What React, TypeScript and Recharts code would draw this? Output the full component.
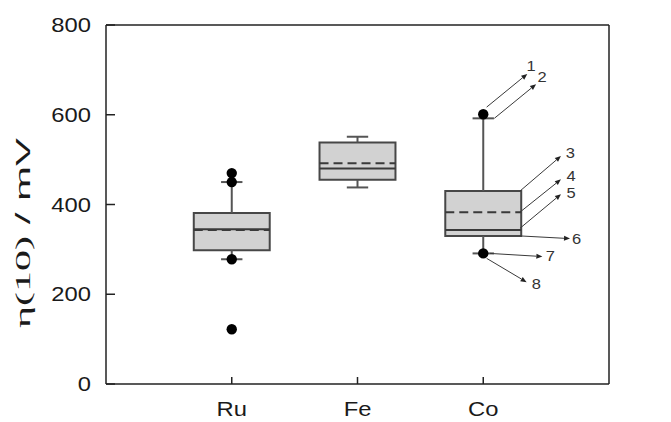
import React from 'react';
import {
  ComposedChart,
  XAxis,
  YAxis,
  ReferenceArea,
  ReferenceLine,
  ReferenceDot,
  Scatter,
} from 'recharts';

// ---- data ----
const categories = ['Ru', 'Fe', 'Co'];
const lowerWhisker = [278, 438, 291];
const q1 = [298, 455, 330];
const median = [345, 480, 343];
const mean = [343, 492, 383];
const q3 = [381, 538, 430];
const upperWhisker = [450, 551, 592];

const outlierCategory = [0, 0, 0, 0, 2, 2];
const outlierValue = [470, 450, 278, 122, 601, 291];

const yTicks = [0, 200, 400, 600, 800];

// annotation arrows on the Co box (data units)
const annotationLabels = ['1', '2', '3', '4', '5', '6', '7', '8'];
const arrowStartX = [3.027, 3.088, 3.292, 3.292, 3.292, 3.292, 3.054, 3.027];
const arrowStartY = [617, 592, 430, 383, 347, 330, 291, 280];
const arrowEndX = [3.35, 3.42, 3.618, 3.618, 3.618, 3.69, 3.47, 3.345];
const arrowEndY = [691, 668, 508, 456, 423, 324, 284, 227];
const labelX = [3.38, 3.467, 3.692, 3.698, 3.698, 3.743, 3.533, 3.422];
const labelY = [710, 684, 515, 464, 426, 324, 285, 223];

const BOX_HALF = 0.302;
const CAP_HALF = 0.085;
const FONT = '"Liberation Sans", Arial, sans-serif';

const outlierData = outlierValue.map((v, i) => ({ x: outlierCategory[i] + 1, y: v }));

const LeftTick = (props: any) => {
  const { x, y, payload } = props;
  return (
    <text
      transform={`translate(${x},${y + 7}) scale(1.16,1)`}
      textAnchor="end"
      fontSize={20.5}
      fontFamily={FONT}
      fill="#1a1a1a"
    >
      {payload.value}
    </text>
  );
};

const RightTick = (props: any) => {
  const { x, y, payload } = props;
  return (
    <text
      transform={`translate(${x},${y + 7}) scale(1.16,1)`}
      textAnchor="start"
      fontSize={20.5}
      fontFamily={FONT}
      fill="#1a1a1a"
    >
      {payload.value}
    </text>
  );
};

const BottomTick = (props: any) => {
  const { x, y, payload } = props;
  return (
    <text
      transform={`translate(${x},${y}) scale(1.16,1)`}
      textAnchor="middle"
      fontSize={20.5}
      fontFamily={FONT}
      fill="#1a1a1a"
    >
      {categories[payload.value - 1]}
    </text>
  );
};

const YLabel = () => (
  <text
    transform="translate(30,233) rotate(-90) scale(2.0,1)"
    textAnchor="middle"
    fontSize={21}
    fill="#1a1a1a"
  >
    <tspan fontFamily='"Liberation Serif", "Times New Roman", serif'>η(10)</tspan>
    <tspan fontFamily={FONT}> / mV</tspan>
  </text>
);

const ArrowShape = (props: any) => {
  const { x1, y1, x2, y2 } = props;
  if ([x1, y1, x2, y2].some((v) => typeof v !== 'number' || isNaN(v))) return null;
  const dx = x2 - x1;
  const dy = y2 - y1;
  const len = Math.sqrt(dx * dx + dy * dy) || 1;
  const ux = dx / len;
  const uy = dy / len;
  const hl = 6;
  const hw = 2.5;
  const bx = x2 - ux * hl;
  const by = y2 - uy * hl;
  const p1 = `${x2},${y2}`;
  const p2 = `${bx - uy * hw},${by + ux * hw}`;
  const p3 = `${bx + uy * hw},${by - ux * hw}`;
  return (
    <g>
      <line x1={x1} y1={y1} x2={bx} y2={by} stroke="#3a3a3a" strokeWidth={1} />
      <polygon points={`${p1} ${p2} ${p3}`} fill="#222" />
    </g>
  );
};

const makeLabelShape = (text: string) => (props: any) => {
  const { cx, cy } = props;
  return (
    <text
      transform={`translate(${cx},${cy}) scale(1.1,1)`}
      textAnchor="middle"
      dominantBaseline="central"
      fontSize={15}
      fontFamily={FONT}
      fill="#333"
    >
      {text}
    </text>
  );
};

const OutlierDot = (props: any) => {
  const { cx, cy } = props;
  return <circle cx={cx} cy={cy} r={5.2} fill="#000" />;
};

export default function App() {
  return (
    <div style={{ position: 'absolute', left: 0, top: 0 }}>
      <ComposedChart
        width={671}
        height={422}
        margin={{ top: 25, right: 0, bottom: 0, left: 0 }}
      >
        <XAxis
          dataKey="x"
          type="number"
          domain={[0, 4]}
          ticks={[1, 2, 3]}
          allowDataOverflow
          height={38}
          axisLine={{ stroke: '#222', strokeWidth: 1.5 }}
          tickLine={{ stroke: '#222', strokeWidth: 1.5 }}
          tickSize={-7}
          tickMargin={39}
          tick={<BottomTick />}
          interval={0}
        />
        <YAxis
          yAxisId="left"
          orientation="left"
          type="number"
          domain={[0, 800]}
          ticks={yTicks}
          width={106}
          axisLine={{ stroke: '#222', strokeWidth: 1.5 }}
          tickLine={{ stroke: '#222', strokeWidth: 1.5 }}
          tickSize={-9}
          tickMargin={24}
          tick={<LeftTick />}
          interval={0}
          label={{ content: <YLabel /> }}
        />
        <YAxis
          yAxisId="right"
          orientation="right"
          type="number"
          domain={[0, 800]}
          ticks={yTicks}
          width={62}
          axisLine={{ stroke: '#222', strokeWidth: 1.5 }}
          tickLine={{ stroke: '#222', strokeWidth: 1.5 }}
          tickSize={-9}
          tickMargin={27}
          tick={<RightTick />}
          interval={0}
        />

        <ReferenceLine
          yAxisId="left"
          y={800}
          stroke="#222"
          strokeWidth={1.5}
        />

        {categories.map((c, i) => (
          <ReferenceLine
            key={`wu-${c}`}
            yAxisId="left"
            segment={[
              { x: i + 1, y: q3[i] },
              { x: i + 1, y: upperWhisker[i] },
            ]}
            stroke="#555"
            strokeWidth={2}
          />
        ))}
        {categories.map((c, i) => (
          <ReferenceLine
            key={`wl-${c}`}
            yAxisId="left"
            segment={[
              { x: i + 1, y: q1[i] },
              { x: i + 1, y: lowerWhisker[i] },
            ]}
            stroke="#555"
            strokeWidth={2}
          />
        ))}
        {categories.map((c, i) => (
          <ReferenceLine
            key={`cu-${c}`}
            yAxisId="left"
            segment={[
              { x: i + 1 - CAP_HALF, y: upperWhisker[i] },
              { x: i + 1 + CAP_HALF, y: upperWhisker[i] },
            ]}
            stroke="#555"
            strokeWidth={2}
          />
        ))}
        {categories.map((c, i) => (
          <ReferenceLine
            key={`cl-${c}`}
            yAxisId="left"
            segment={[
              { x: i + 1 - CAP_HALF, y: lowerWhisker[i] },
              { x: i + 1 + CAP_HALF, y: lowerWhisker[i] },
            ]}
            stroke="#555"
            strokeWidth={2}
          />
        ))}
        {categories.map((c, i) => (
          <ReferenceArea
            key={`box-${c}`}
            yAxisId="left"
            x1={i + 1 - BOX_HALF}
            x2={i + 1 + BOX_HALF}
            y1={q1[i]}
            y2={q3[i]}
            fill="#d2d2d2"
            fillOpacity={1}
            stroke="#474747"
            strokeWidth={2}
          />
        ))}
        {categories.map((c, i) => (
          <ReferenceLine
            key={`med-${c}`}
            yAxisId="left"
            segment={[
              { x: i + 1 - BOX_HALF, y: median[i] },
              { x: i + 1 + BOX_HALF, y: median[i] },
            ]}
            stroke="#3a3a3a"
            strokeWidth={2}
          />
        ))}
        {categories.map((c, i) => (
          <ReferenceLine
            key={`mean-${c}`}
            yAxisId="left"
            segment={[
              { x: i + 1 - BOX_HALF, y: mean[i] },
              { x: i + 1 + BOX_HALF, y: mean[i] },
            ]}
            stroke="#3a3a3a"
            strokeWidth={2}
            strokeDasharray="9 5"
          />
        ))}

        <Scatter
          yAxisId="left"
          data={outlierData}
          dataKey="y"
          shape={<OutlierDot />}
          isAnimationActive={false}
        />

        {annotationLabels.map((t, i) => (
          <ReferenceLine
            key={`arrow-${t}`}
            yAxisId="left"
            segment={[
              { x: arrowStartX[i], y: arrowStartY[i] },
              { x: arrowEndX[i], y: arrowEndY[i] },
            ]}
            shape={<ArrowShape />}
          />
        ))}
        {annotationLabels.map((t, i) => (
          <ReferenceDot
            key={`lab-${t}`}
            yAxisId="left"
            x={labelX[i]}
            y={labelY[i]}
            r={0}
            shape={makeLabelShape(t)}
          />
        ))}
      </ComposedChart>
    </div>
  );
}
